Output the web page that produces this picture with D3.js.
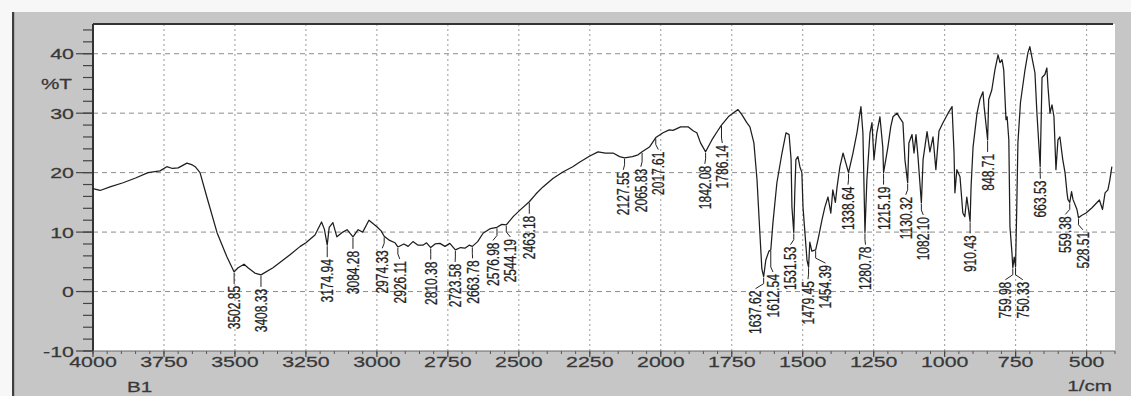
<!DOCTYPE html>
<html>
<head>
<meta charset="utf-8">
<script src="https://cdn.jsdelivr.net/npm/d3@7"></script>
<style>
  body { margin: 0; background: #f6f6f6; }
  svg { display: block; }
  text { font-family: "Liberation Sans", Arial, sans-serif; }
</style>
</head>
<body>
<svg id="chart" width="1131" height="396"></svg>
<script>
// IR transmittance spectrum, sample B1
const wavenumbers = [
  4000, 3975, 3940, 3894, 3850, 3806, 3764, 3740, 3720, 3700, 3669, 3650, 3640, 3623, 3599, 3563, 3528,
  3502.85, 3489, 3468, 3454, 3430, 3408.33, 3366, 3306, 3270, 3250, 3218, 3195, 3185, 3174.94, 3168,
  3155, 3141, 3120, 3105, 3084.28, 3066, 3050, 3028, 3000, 2985, 2974.33, 2955, 2936, 2926.11, 2905,
  2890, 2873, 2855, 2838, 2825, 2810.38, 2795, 2778, 2760, 2743, 2723.58, 2705, 2690, 2675, 2663.78,
  2645, 2626, 2600, 2576.98, 2560, 2544.19, 2520, 2496, 2463.18, 2440, 2415, 2380, 2345, 2310, 2285,
  2250, 2221, 2195, 2168, 2145, 2127.55, 2100, 2080, 2065.83, 2040, 2017.61, 1992, 1970, 1957, 1930,
  1904, 1885, 1873, 1860, 1842.08, 1820, 1800, 1786.14, 1760, 1740, 1728, 1715, 1697, 1686, 1672,
  1661, 1651, 1644, 1637.62, 1630, 1619, 1612.54, 1605, 1591, 1573, 1559, 1548, 1541, 1538, 1531.53,
  1528, 1524, 1517, 1510, 1503, 1499, 1485, 1479.45, 1475, 1468, 1454.39, 1445, 1432, 1422, 1411,
  1401, 1394, 1385, 1379, 1369, 1358, 1348, 1338.64, 1323, 1309, 1295, 1288, 1280.78, 1274, 1263,
  1256, 1249, 1239, 1228, 1218, 1215.19, 1200, 1190, 1182, 1168, 1158, 1147, 1140, 1130.32, 1126,
  1115, 1108, 1101, 1094, 1082.10, 1076, 1062, 1052, 1041, 1031, 1020, 1006, 988, 974, 967, 964, 957,
  946, 936, 929, 922, 910.43, 907, 900, 886, 876, 865, 861, 848.71, 845, 834, 823, 812, 805, 798, 792,
  784, 780, 774, 770, 763, 759.98, 755, 750.33, 746, 742, 733, 717, 707, 700, 689, 682, 675, 663.53,
  657, 647, 640, 636, 629, 622, 615, 608, 601, 594, 587, 584, 576, 569, 566, 559.38, 553, 548, 534,
  528.51, 518, 502, 481, 455, 444, 435, 425, 418, 411
];
const transmittance = [
  17.3, 17.0, 17.6, 18.3, 19.1, 20.0, 20.3, 21.0, 20.7, 20.8, 21.6, 21.3, 21.0, 20.0, 15.9, 9.9, 5.8,
  3.3, 4.0, 4.6, 4.0, 3.1, 2.8, 4.0, 6.2, 7.6, 8.2, 9.5, 11.7, 10.5, 7.8, 10.8,
  11.6, 9.2, 10.0, 10.4, 9.2, 10.4, 10.0, 12.0, 10.9, 10.2, 9.3, 8.6, 8.2, 7.5, 8.0,
  7.6, 8.4, 7.8, 7.8, 8.2, 7.4, 8.0, 8.1, 7.6, 8.1, 7.0, 7.4, 7.3, 7.8, 7.6,
  8.4, 9.8, 10.6, 10.8, 11.3, 11.2, 12.6, 13.7, 15.1, 16.4, 17.6, 19.0, 20.1, 21.0, 21.8,
  22.8, 23.5, 23.3, 23.3, 22.7, 22.5, 22.7, 23.0, 23.5, 24.3, 25.9, 26.7, 27.2, 27.1, 27.7,
  27.7, 27.0, 26.7, 25.0, 23.5, 25.5, 27.0, 28.0, 29.5, 30.2, 30.6, 29.8, 28.4, 27.7, 25.0,
  18.8, 9.9, 3.8, 2.5, 5.3, 6.8, 7.0, 11.5, 18.3, 23.3, 26.7, 26.4, 22.2, 14.2, 9.9,
  16.6, 22.2, 22.7, 21.0, 20.0, 14.2, 5.3, 4.1, 8.3, 6.8, 7.0, 9.0, 12.1, 14.2, 15.9,
  13.2, 17.1, 15.0, 17.6, 21.0, 23.3, 21.6, 20.0, 23.3, 26.7, 31.1, 26.7, 9.9, 18.8, 26.7,
  28.4, 22.2, 26.7, 29.4, 24.3, 20.0, 24.3, 27.7, 29.4, 30.0, 29.2, 28.4, 22.2, 18.3, 25.0,
  26.4, 23.3, 26.4, 22.7, 14.9, 22.2, 26.9, 23.5, 26.0, 20.5, 27.0, 28.4, 30.0, 31.1, 23.3, 16.6, 20.5,
  19.3, 13.2, 12.6, 15.9, 11.8, 17.6, 24.3, 30.0, 32.3, 33.6, 31.1, 25.5, 32.3, 33.9, 37.3, 39.8, 38.5, 39.0, 37.3,
  28.9, 29.4, 25.5, 10.9, 6.5, 4.0, 5.8, 4.2, 14.2, 25.0, 31.8, 37.3, 40.1, 41.2, 38.5, 36.8, 30.0, 21.0,
  36.0, 36.5, 37.6, 34.4, 30.0, 31.4, 29.4, 20.5, 25.5, 26.0, 23.3, 22.2, 20.0, 16.6, 15.5, 15.0, 16.8, 15.5, 13.8,
  12.4, 12.8, 13.2, 14.1, 15.4, 13.8, 16.6, 17.1, 18.8, 21.0
];

// Picked peaks, labelled with their wavenumber
const peakLabels = [
  3502.85, 3408.33, 3174.94, 3084.28, 2974.33, 2926.11, 2810.38, 2723.58, 2663.78, 2576.98, 2544.19,
  2463.18, 2127.55, 2065.83, 2017.61, 1842.08, 1786.14, 1637.62, 1612.54, 1531.53, 1479.45, 1454.39,
  1338.64, 1280.78, 1215.19, 1130.32, 1082.10, 910.43, 848.71, 759.98, 750.33, 663.53, 559.38, 528.51
];

const xTickLabels = [4000, 3750, 3500, 3250, 3000, 2750, 2500, 2250, 2000, 1750, 1500, 1250, 1000, 750, 500];
const yTickLabels = [-10, 0, 10, 20, 30, 40];
const xUnitLabel = "1/cm";
const yUnitLabel = "%T";
const sampleName = "B1";

const svg = d3.select("#chart");
const W = 1131, H = 396;
const plot = { left: 93, top: 24, right: 1115, bottom: 351 };

const x = d3.scaleLinear().domain([4000, 400]).range([plot.left, plot.right]);
const y = d3.scaleLinear().domain([-10, 45]).range([plot.bottom, plot.top]);

const textColor = "#383838";
const stretch = 1.38;

// panel background
svg.append("rect").attr("x", 0).attr("y", 0).attr("width", W).attr("height", H).attr("fill", "#f7f7f7");
svg.append("rect").attr("x", 12).attr("y", 12).attr("width", W - 12).attr("height", H - 12).attr("fill", "#c6c6c6");
svg.append("rect").attr("x", 12).attr("y", 12).attr("width", 2.2).attr("height", H - 12).attr("fill", "#3e3e3e");
svg.append("rect").attr("x", plot.left).attr("y", plot.top)
  .attr("width", plot.right - plot.left).attr("height", plot.bottom - plot.top).attr("fill", "#ffffff");

// grid
const grid = svg.append("g");
grid.selectAll("line.h").data([0, 10, 20, 30, 40]).join("line")
  .attr("x1", plot.left).attr("x2", plot.right)
  .attr("y1", d => y(d)).attr("y2", d => y(d))
  .attr("stroke", "#8c8c8c").attr("stroke-width", 1).attr("stroke-dasharray", "5,4");
grid.selectAll("line.v").data(xTickLabels.filter(d => d !== 4000)).join("line")
  .attr("x1", d => x(d)).attr("x2", d => x(d))
  .attr("y1", plot.top).attr("y2", plot.bottom)
  .attr("stroke", "#9a9a9a").attr("stroke-width", 1).attr("stroke-dasharray", "2,3");

// y axis ticks
const yAxis = svg.append("g");
const yMinor = d3.range(-10, 45, 2);
yAxis.selectAll("line.minor").data(yMinor).join("line")
  .attr("x1", 83).attr("x2", plot.left).attr("y1", d => y(d)).attr("y2", d => y(d))
  .attr("stroke", "#444").attr("stroke-width", 1.2);
yAxis.selectAll("line.major").data(yTickLabels).join("line")
  .attr("x1", 76).attr("x2", plot.left).attr("y1", d => y(d)).attr("y2", d => y(d))
  .attr("stroke", "#444").attr("stroke-width", 1.2);
yAxis.selectAll("text").data(yTickLabels).join("text")
  .attr("transform", d => `translate(74,${y(d)}) scale(${stretch},1)`)
  .attr("dy", "0.36em").attr("text-anchor", "end")
  .attr("font-size", 15.5).attr("fill", textColor).attr("stroke", textColor).attr("stroke-width", 0.25)
  .text(d => d);
svg.append("text").attr("transform", `translate(72,89) scale(${stretch},1)`)
  .attr("text-anchor", "end").attr("font-size", 15).attr("fill", textColor)
  .attr("stroke", textColor).attr("stroke-width", 0.25).text(yUnitLabel);

// x axis ticks
const xAxis = svg.append("g");
xAxis.selectAll("line.minor").data(d3.range(4000, 399, -50)).join("line")
  .attr("x1", d => x(d)).attr("x2", d => x(d)).attr("y1", plot.bottom).attr("y2", plot.bottom + 3)
  .attr("stroke", "#555").attr("stroke-width", 1);
xAxis.selectAll("line.major").data(xTickLabels).join("line")
  .attr("x1", d => x(d)).attr("x2", d => x(d)).attr("y1", plot.bottom).attr("y2", plot.bottom + 6)
  .attr("stroke", "#444").attr("stroke-width", 1.2);
xAxis.selectAll("text").data(xTickLabels).join("text")
  .attr("transform", d => `translate(${x(d)},367) scale(${stretch},1)`)
  .attr("text-anchor", "middle").attr("font-size", 15.5).attr("fill", textColor)
  .attr("stroke", textColor).attr("stroke-width", 0.25).text(d => d);
svg.append("text").attr("transform", `translate(127,392) scale(${stretch},1)`)
  .attr("font-size", 15).attr("fill", textColor).attr("stroke", textColor).attr("stroke-width", 0.25)
  .text(sampleName);
svg.append("text").attr("transform", `translate(1112,391) scale(${stretch},1)`)
  .attr("text-anchor", "end").attr("font-size", 15).attr("fill", textColor)
  .attr("stroke", textColor).attr("stroke-width", 0.25).text(xUnitLabel);

// frame
svg.append("line").attr("x1", plot.left).attr("x2", plot.right - 2).attr("y1", plot.top).attr("y2", plot.top)
  .attr("stroke", "#333").attr("stroke-width", 2);
svg.append("line").attr("x1", plot.left).attr("x2", plot.left).attr("y1", plot.top).attr("y2", plot.bottom)
  .attr("stroke", "#333").attr("stroke-width", 2);
svg.append("line").attr("x1", plot.left).attr("x2", plot.right).attr("y1", plot.bottom).attr("y2", plot.bottom)
  .attr("stroke", "#666").attr("stroke-width", 1);

// spectrum
const points = wavenumbers.map((w, i) => ({ w, t: transmittance[i] }));
const line = d3.line().x(d => x(d.w)).y(d => y(d.t));
svg.append("path").datum(points).attr("d", line)
  .attr("fill", "none").attr("stroke", "#1e1e1e").attr("stroke-width", 1.25).attr("stroke-linejoin", "round");

// peak labels: spread horizontally so neighbours don't overlap
const peaks = peakLabels.map(w => {
  const i = wavenumbers.indexOf(w);
  return { w, t: transmittance[i], x0: x(w), y0: y(transmittance[i]) };
}).sort((a, b) => a.x0 - b.x0);
peaks.forEach(p => p.x = p.x0);
const minGap = 17.5;
for (let iter = 0; iter < 300; iter++) {
  let moved = false;
  for (let i = 1; i < peaks.length; i++) {
    const d = peaks[i].x - peaks[i - 1].x;
    if (d < minGap - 0.01) {
      const s = (minGap - d) / 2;
      peaks[i - 1].x -= s; peaks[i].x += s; moved = true;
    }
  }
  if (!moved) break;
}
// each label starts just below the lowest nearby part of the trace
peaks.forEach(p => {
  const lo = Math.min(p.x0, p.x) - 5, hi = Math.max(p.x0, p.x) + 5;
  let maxY = p.y0;
  points.forEach(q => { const qx = x(q.w); if (qx >= lo && qx <= hi) maxY = Math.max(maxY, y(q.t)); });
  p.top = maxY + 12;
});

const labels = svg.append("g");
labels.selectAll("path").data(peaks).join("path")
  .attr("d", p => `M${p.x0},${p.y0 + 1}L${p.x0},${p.top - 5}L${p.x},${p.top}`)
  .attr("fill", "none").attr("stroke", "#222").attr("stroke-width", 1);
labels.selectAll("text").data(peaks).join("text")
  .attr("transform", p => `translate(${p.x},${p.top + 2}) rotate(-90) scale(1,${stretch})`)
  .attr("text-anchor", "end").attr("dy", "0.36em")
  .attr("font-size", 12).attr("fill", "#1e1e1e").attr("stroke", "#1e1e1e").attr("stroke-width", 0.2)
  .text(p => p.w.toFixed(2));
</script>
</body>
</html>
